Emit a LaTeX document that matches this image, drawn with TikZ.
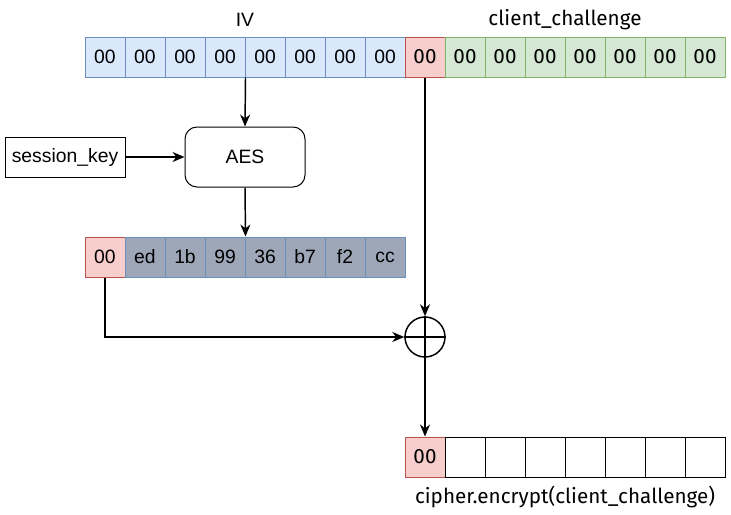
\documentclass[tikz,border=0pt]{standalone}
\usepackage{fontspec}
\setmainfont{Liberation Sans}
\newfontfamily\firafont{Fira Sans}
\usetikzlibrary{arrows.meta}
\definecolor{ivfill}{HTML}{DAE8FC}
\definecolor{ivline}{HTML}{6C8EBF}
\definecolor{zerofill}{HTML}{F8CECC}
\definecolor{zeroline}{HTML}{B85450}
\definecolor{ccfill}{HTML}{D5E8D4}
\definecolor{ccline}{HTML}{82B366}
\definecolor{ksfill}{RGB}{158,167,184}

\begin{document}
\begin{tikzpicture}[x=0.75pt,y=-0.75pt,
  cell/.style={draw,line width=0.75pt,minimum width=30pt,minimum height=30pt,
    inner sep=0pt,font=\fontsize{14.5}{16}\selectfont},
  firacell/.style={cell,font=\firafont\fontsize{15.5}{17}\selectfont},
  flow/.style={-{Stealth[length=9pt,width=7.5pt]},line width=1.1pt}]
  \useasboundingbox (0,0) rectangle (731,514);

  % IV and client_challenge
  \foreach \i in {1,...,8} {
    \node[cell,fill=ivfill,draw=ivline] (iv\i) at (65+40*\i,57) {00};
  }
  \node[firacell,fill=zerofill,draw=zeroline] (cc0) at (425,57) {00};
  \foreach \i in {1,...,7} {
    \node[firacell,fill=ccfill,draw=ccline] (cc\i) at (425+40*\i,57) {00};
  }
  \node[font=\fontsize{14.5}{16}\selectfont] (ivlabel) at (245,20) {IV};
  \node[font=\firafont\fontsize{15.5}{17}\selectfont] (cclabel) at (565,20) {client\_challenge};

  % AES block
  \node[draw,line width=0.75pt,rounded corners=9pt,minimum width=90pt,minimum height=45pt,
    font=\fontsize{14.5}{16}\selectfont] (aes) at (245,157) {AES};
  \node[draw,line width=0.75pt,minimum width=90pt,minimum height=30pt,inner sep=0pt,
    font=\fontsize{14.5}{16}\selectfont] (key) at (65,157) {session\_key};

  % keystream
  \node[cell,fill=zerofill,draw=zeroline] (ks0) at (105,257) {00};
  \foreach \i/\b in {1/ed,2/1b,3/99,4/36,5/b7,6/f2,7/cc} {
    \node[cell,fill=ksfill,draw=ivline] (ks\i) at (105+40*\i,257) {\b};
  }

  % XOR
  \node[circle,draw,line width=1.1pt,minimum size=30pt,inner sep=0pt] (xor) at (425,337) {};
  \draw[line width=1.1pt] (xor.north) -- (xor.south);
  \draw[line width=1.1pt] (xor.west) -- (xor.east);

  % result
  \node[firacell,fill=zerofill,draw=zeroline] (out0) at (425,457) {00};
  \foreach \i in {1,...,7} {
    \node[cell] (out\i) at (425+40*\i,457) {};
  }
  \node[font=\firafont\fontsize{15.5}{17}\selectfont] (outlabel) at (565,497) {cipher.encrypt(client\_challenge)};

  % connectors
  \draw[flow] (iv4.south east) -- (aes.north);
  \draw[flow] (key) -- (aes);
  \draw[flow] (aes.south) -- (ks3.north east);
  \draw[flow] (ks0.south) |- (xor.west);
  \draw[flow] (cc0.south) -- (xor.north);
  \draw[flow] (xor.south) -- (out0.north);
\end{tikzpicture}
\end{document}
